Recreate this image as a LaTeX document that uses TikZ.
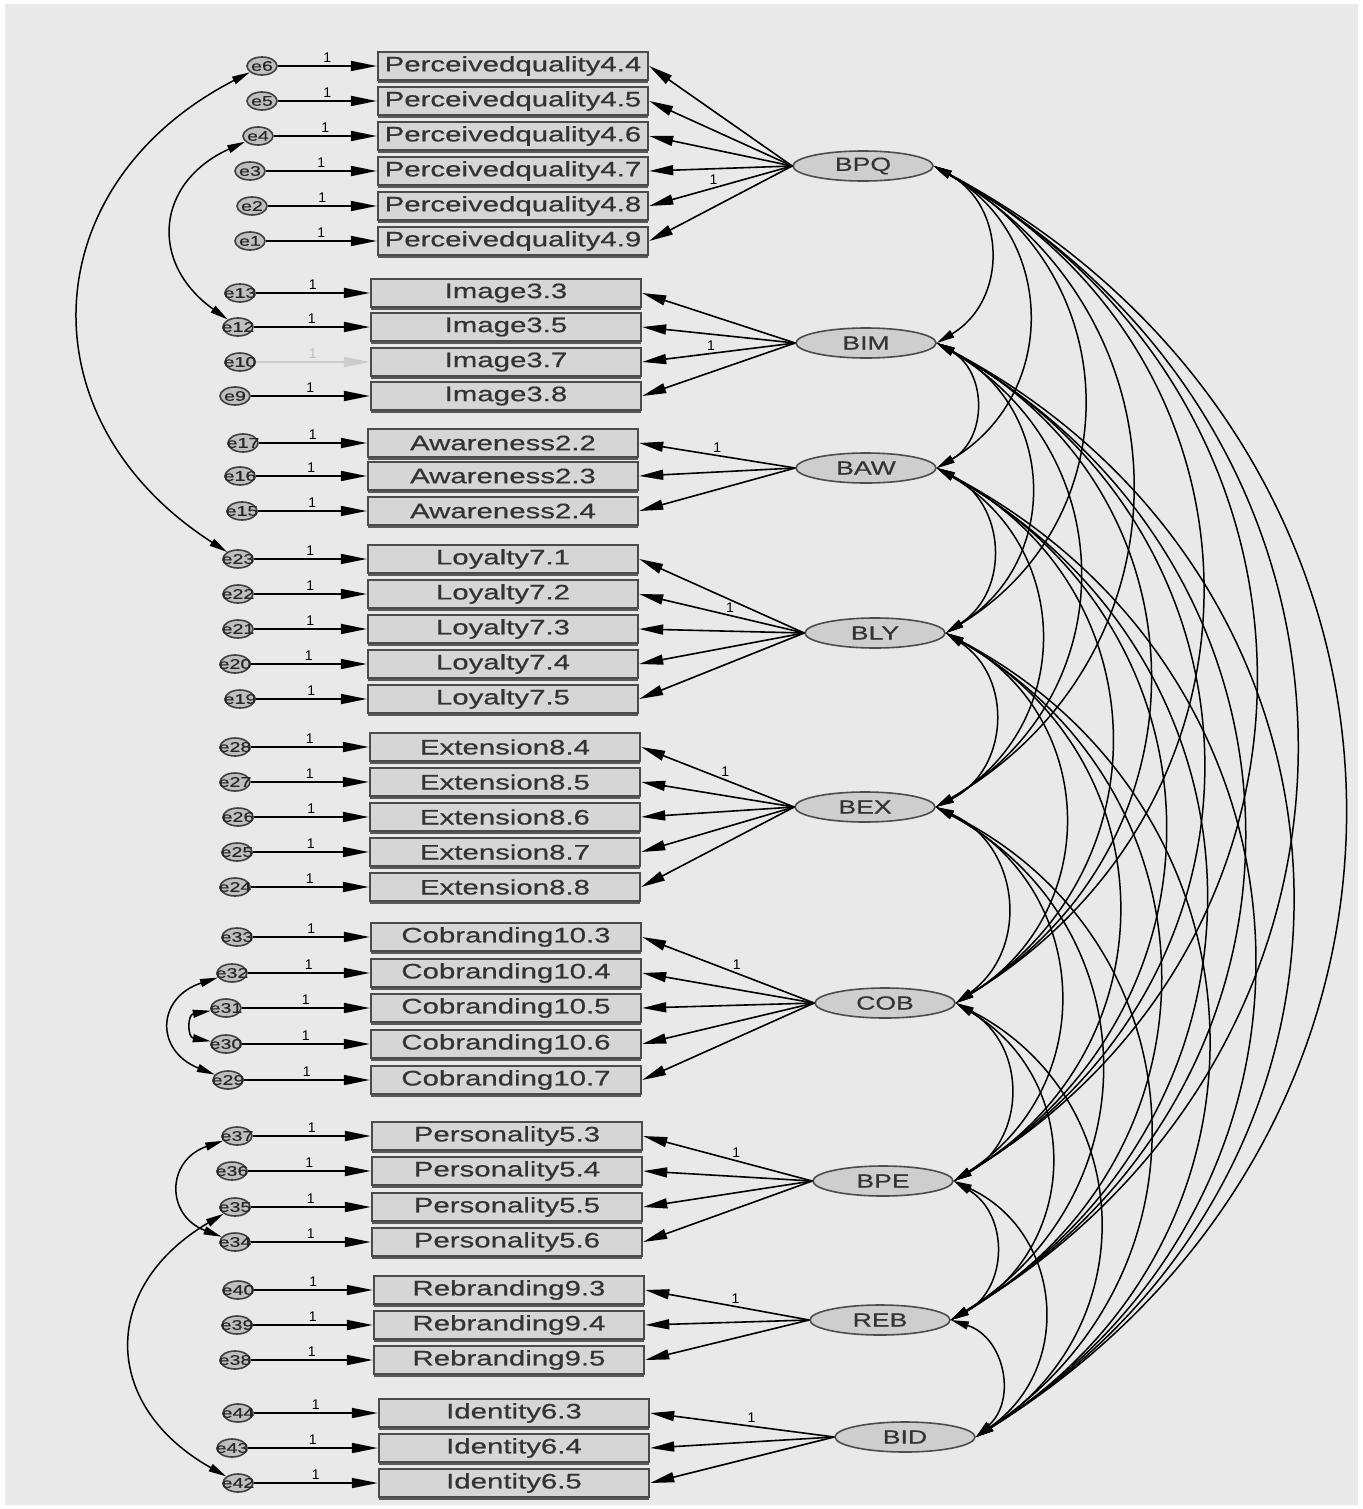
\documentclass[tikz,border=0pt]{standalone}
\usepackage{fontspec}
\setmainfont{Liberation Sans}
\newfontfamily\amosfont[FakeStretch=1.4,FakeBold=0.6]{Liberation Sans}
\usetikzlibrary{arrows.meta,shapes.geometric,shadows}

\definecolor{panel}{RGB}{233,233,233}
\definecolor{boxfill}{RGB}{214,214,214}
\definecolor{boxline}{RGB}{75,75,75}
\definecolor{ovalfill}{RGB}{206,206,206}

\tikzset{
  obs/.style={draw=boxline,fill=boxfill,line width=1.2pt,minimum width=135pt,minimum height=14pt,
    inner sep=0pt,text=black!80,font=\amosfont\fontsize{10.5}{10.5}\selectfont,
    drop shadow={shadow xshift=0pt,shadow yshift=-1.3pt,fill=black!65,opacity=1}},
  lat/.style={ellipse,draw=gray!60!black,fill=ovalfill,line width=0.8pt,minimum width=70pt,
    minimum height=15pt,inner sep=0pt,text=black!80,font=\amosfont\fontsize{9.5}{9.5}\selectfont},
  err/.style={ellipse,draw=black!75,fill=gray!50,line width=0.8pt,minimum width=15pt,
    minimum height=9pt,inner sep=0pt},
  errtxt/.style={inner sep=0pt,text=black!85,font=\amosfont\fontsize{7}{7}\selectfont},
  one/.style={above,inner sep=1.5pt,font=\fontsize{7}{7}\selectfont},
  fixd/.style={line width=0.9pt,-{Triangle[length=13pt,width=5pt]}},
  load/.style={line width=0.8pt,-{Triangle[length=12pt,width=5pt]}},
  cov/.style={line width=0.75pt,{Triangle[length=9pt,width=4pt]}-{Triangle[length=9pt,width=4pt]}},
}

\begin{document}
\begin{tikzpicture}[x=0.5pt,y=-0.5pt]
\useasboundingbox (0,0) rectangle (1362,1509);
\fill[white] (0,0) rectangle (1362,1509);
\fill[panel] (5,4) rectangle (1358,1505);

% latent factors
\node[lat] (BPQ) at (863,166) {BPQ};
\node[lat] (BIM) at (866,343) {BIM};
\node[lat] (BAW) at (866,468) {BAW};
\node[lat] (BLY) at (875,633) {BLY};
\node[lat] (BEX) at (865,807) {BEX};
\node[lat] (COB) at (885,1003) {COB};
\node[lat] (BPE) at (883,1181) {BPE};
\node[lat] (REB) at (880,1320) {REB};
\node[lat] (BID) at (905,1437) {BID};

% perceived quality
\foreach \s/\er/\y/\ex in {4/e6/66/262,5/e5/101/262,6/e4/136/258,7/e3/171/250,8/e2/206/252,9/e1/241/250}{
  \node[obs] (pq\s) at (513,\y) {Perceivedquality4.\s};
  \node[err] (\er) at (\ex,\y) {};
  \node[errtxt] at (\er) {\er};
  \draw[fixd] (\er) -- node[one]{1} (pq\s);
  \draw[load] (BPQ.west) -- (pq\s.east);
}
% image
\foreach \s/\er/\y/\ex in {3/e13/293/240,5/e12/327/238,7/e10/362/240,8/e9/396/235}{
  \node[obs] (im\s) at (506,\y) {Image3.\s};
  \node[err] (\er) at (\ex,\y) {};
  \node[errtxt] at (\er) {\er};
  \ifnum\s=7
    \draw[fixd,draw=gray!40] (\er) -- node[one,text=gray!50]{1} (im\s);
  \else
    \draw[fixd] (\er) -- node[one]{1} (im\s);
  \fi
  \draw[load] (BIM.west) -- (im\s.east);
}
% awareness
\foreach \s/\er/\y/\ex in {2/e17/443/243,3/e16/476/240,4/e15/511/242}{
  \node[obs] (aw\s) at (503,\y) {Awareness2.\s};
  \node[err] (\er) at (\ex,\y) {};
  \node[errtxt] at (\er) {\er};
  \draw[fixd] (\er) -- node[one]{1} (aw\s);
  \draw[load] (BAW.west) -- (aw\s.east);
}
% loyalty
\foreach \s/\er/\y/\ex in {1/e23/559/238,2/e22/594/238,3/e21/629/238,4/e20/664/235,5/e19/699/240}{
  \node[obs] (ly\s) at (503,\y) {Loyalty7.\s};
  \node[err] (\er) at (\ex,\y) {};
  \node[errtxt] at (\er) {\er};
  \draw[fixd] (\er) -- node[one]{1} (ly\s);
  \draw[load] (BLY.west) -- (ly\s.east);
}
% extension
\foreach \s/\er/\y/\ex in {4/e28/747/235,5/e27/782/235,6/e26/817/238,7/e25/852/237,8/e24/887/235}{
  \node[obs] (ex\s) at (505,\y) {Extension8.\s};
  \node[err] (\er) at (\ex,\y) {};
  \node[errtxt] at (\er) {\er};
  \draw[fixd] (\er) -- node[one]{1} (ex\s);
  \draw[load] (BEX.west) -- (ex\s.east);
}
% cobranding
\foreach \s/\er/\y/\ex in {3/e33/937/237,4/e32/973/232,5/e31/1008/226,6/e30/1044/226,7/e29/1080/228}{
  \node[obs] (cb\s) at (506,\y) {Cobranding10.\s};
  \node[err] (\er) at (\ex,\y) {};
  \node[errtxt] at (\er) {\er};
  \draw[fixd] (\er) -- node[one]{1} (cb\s);
  \draw[load] (COB.west) -- (cb\s.east);
}
% personality
\foreach \s/\er/\y/\ex in {3/e37/1136/237,4/e36/1171/232,5/e35/1207/235,6/e34/1242/235}{
  \node[obs] (pe\s) at (507,\y) {Personality5.\s};
  \node[err] (\er) at (\ex,\y) {};
  \node[errtxt] at (\er) {\er};
  \draw[fixd] (\er) -- node[one]{1} (pe\s);
  \draw[load] (BPE.west) -- (pe\s.east);
}
% rebranding
\foreach \s/\er/\y/\ex in {3/e40/1290/238,4/e39/1325/237,5/e38/1360/235}{
  \node[obs] (rb\s) at (509,\y) {Rebranding9.\s};
  \node[err] (\er) at (\ex,\y) {};
  \node[errtxt] at (\er) {\er};
  \draw[fixd] (\er) -- node[one]{1} (rb\s);
  \draw[load] (REB.west) -- (rb\s.east);
}
% identity
\foreach \s/\er/\y/\ex in {3/e44/1413/238,4/e43/1448/232,5/e42/1483/238}{
  \node[obs] (id\s) at (514,\y) {Identity6.\s};
  \node[err] (\er) at (\ex,\y) {};
  \node[errtxt] at (\er) {\er};
  \draw[fixd] (\er) -- node[one]{1} (id\s);
  \draw[load] (BID.west) -- (id\s.east);
}

% fixed loadings
\path (BPQ.west) -- node[one,pos=0.55]{1} (pq8.east);
\path (BIM.west) -- node[one,pos=0.55]{1} (im7.east);
\path (BAW.west) -- node[one,pos=0.5]{1} (aw2.east);
\path (BLY.west) -- node[one,pos=0.45]{1} (ly2.east);
\path (BEX.west) -- node[one,pos=0.45]{1} (ex4.east);
\path (COB.west) -- node[one,pos=0.45]{1} (cb3.east);
\path (BPE.west) -- node[one,pos=0.45]{1} (pe3.east);
\path (REB.west) -- node[one,pos=0.45]{1} (rb3.east);
\path (BID.west) -- node[one,pos=0.45]{1} (id3.east);

% covariances between factors
\foreach \a [count=\i] in {BPQ,BIM,BAW,BLY,BEX,COB,BPE,REB}{
  \foreach \b [count=\j] in {BIM,BAW,BLY,BEX,COB,BPE,REB,BID}{
    \ifnum\j<\i\else
      \draw[cov] (\a.east) to[bend left=60,looseness=1.2] (\b.east);
    \fi
  }
}

% correlated errors
\draw[cov] (e6) to[bend right=60,looseness=1.3] (e23);
\draw[cov] (e4) to[bend right=60,looseness=1.4] (e12);
\draw[cov] (e32) to[bend right=70,looseness=1.7] (e29);
\draw[cov] (e31) to[bend right=80,looseness=2] (e30);
\draw[cov] (e37) to[bend right=70,looseness=1.6] (e34);
\draw[cov] (e35) to[bend right=60,looseness=1.4] (e42);
\end{tikzpicture}
\end{document}
